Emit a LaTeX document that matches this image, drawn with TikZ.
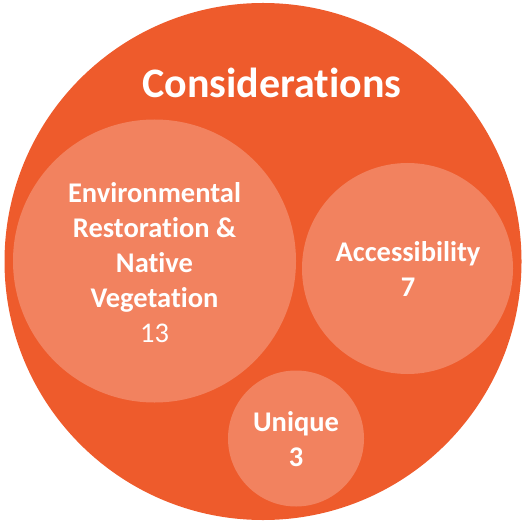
\documentclass[tikz,border=0pt]{standalone}
\usepackage{fontspec}
\setmainfont[Ligatures=NoCommon]{Carlito}
\definecolor{outerc}{HTML}{EE5B2C}
\definecolor{innerc}{HTML}{F2825F}
\begin{document}
\begin{tikzpicture}[x=1pt,y=-1pt,
  bubble/.style={circle,fill=innerc,draw=none,inner sep=0pt},
  lbl/.style={text=white,align=center,anchor=base,font=\fontsize{28.5}{35}\selectfont\bfseries,inner sep=0pt}]
\useasboundingbox (0,0) rectangle (522,526);
\node[circle,fill=outerc,minimum size=517pt,inner sep=0pt] (outer) at (263,261.5) {};
\node[bubble,minimum size=283pt] (env) at (154.5,261) {};
\node[bubble,minimum size=211pt] (acc) at (407.5,268.5) {};
\node[bubble,minimum size=136pt] (uni) at (296,438.5) {};
\node[lbl,font=\fontsize{42}{48}\selectfont\bfseries] (title) at (272,98) {Considerations};
\node[lbl] (envt) at (154.5,342) {Environmental\\Restoration \&\\Native\\Vegetation\\\mdseries 13};
\node[lbl] (acct) at (408,296) {Accessibility\\7};
\node[lbl] (unit) at (296,466) {Unique\\3};
\end{tikzpicture}
\end{document}
